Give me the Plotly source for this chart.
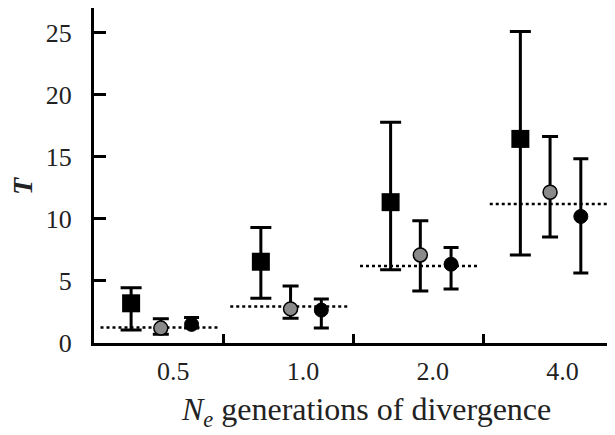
import plotly.graph_objects as go

categories = ["0.5", "1.0", "2.0", "4.0"]

# Series 1: black squares
sq_mean = [3.2, 6.55, 11.35, 16.45]
sq_hi = [4.45, 9.3, 17.8, 25.1]
sq_lo = [1.05, 3.6, 5.9, 7.1]

# Series 2: grey circles
gr_mean = [1.2, 2.75, 7.1, 12.15]
gr_hi = [1.95, 4.6, 9.85, 16.65]
gr_lo = [0.7, 2.0, 4.2, 8.55]

# Series 3: black circles
bk_mean = [1.5, 2.65, 6.35, 10.2]
bk_hi = [2.05, 3.55, 7.7, 14.85]
bk_lo = [1.2, 1.2, 4.35, 5.65]

# Expected values (dotted lines)
expected = [1.25, 2.95, 6.2, 11.2]

n = len(categories)
idx = list(range(n))

fig = go.Figure()

# dotted expectation lines
lx, ly = [], []
for i, e in zip(idx, expected):
    lx += [i + 0.05, i + 0.97, None]
    ly += [e, e, None]
fig.add_trace(go.Scatter(x=lx, y=ly, mode="lines",
                         line=dict(color="black", width=2.5, dash="dot"),
                         hoverinfo="skip", showlegend=False))


def add_series(mean, hi, lo, offset, symbol, size, color, capw, line_w):
    fig.add_trace(go.Scatter(
        x=[i + offset for i in idx], y=mean, mode="markers",
        marker=dict(symbol=symbol, size=size, color=color,
                    line=dict(color="black", width=line_w)),
        error_y=dict(type="data", symmetric=False,
                     array=[h - m for h, m in zip(hi, mean)],
                     arrayminus=[m - l for m, l in zip(mean, lo)],
                     color="black", thickness=3, width=capw),
        showlegend=False))


add_series(sq_mean, sq_hi, sq_lo, 0.286, "square", 18, "black", 10.5, 0)
add_series(gr_mean, gr_hi, gr_lo, 0.515, "circle", 14, "#8a8a8a", 8, 1.5)
add_series(bk_mean, bk_hi, bk_lo, 0.752, "circle", 14, "black", 7.5, 1)

font_family = "Liberation Serif, Times New Roman, serif"

fig.update_layout(
    width=607, height=427,
    margin=dict(l=86, r=2, t=0, b=92),
    plot_bgcolor="white", paper_bgcolor="white",
    font=dict(family=font_family, color="#222", size=26),
    xaxis=dict(range=[0, n], showgrid=False, zeroline=False,
               showline=True, linecolor="black", linewidth=3,
               tickmode="array", tickvals=[i + 0.61 for i in idx],
               ticktext=categories, ticks="", ticklabelstandoff=3,
               tickfont=dict(size=26),
               minor=dict(tickmode="array", tickvals=[i + 1 for i in idx],
                          ticks="inside", ticklen=9, tickwidth=3,
                          tickcolor="black", showgrid=False)),
    yaxis=dict(range=[0, 27.0], showgrid=False, zeroline=False,
               showline=True, linecolor="black", linewidth=3,
               tickvals=[0, 5, 10, 15, 20, 25], ticks="inside",
               ticklen=12, tickwidth=3, tickcolor="black",
               ticklabelstandoff=14, tickfont=dict(size=26)),
    annotations=[
        dict(text="<b><i>T</i></b>", xref="paper", yref="paper",
             x=-0.138, y=0.47, xanchor="center", yanchor="middle",
             textangle=-90, showarrow=False, font=dict(size=28, color="#222")),
        dict(text="<i>N<sub>e</sub></i> generations of divergence",
             xref="paper", yref="paper", x=0.525, y=-0.205,
             xanchor="center", yanchor="middle", showarrow=False,
             font=dict(size=32, color="#222")),
    ],
)

fig.write_html("out.html")
